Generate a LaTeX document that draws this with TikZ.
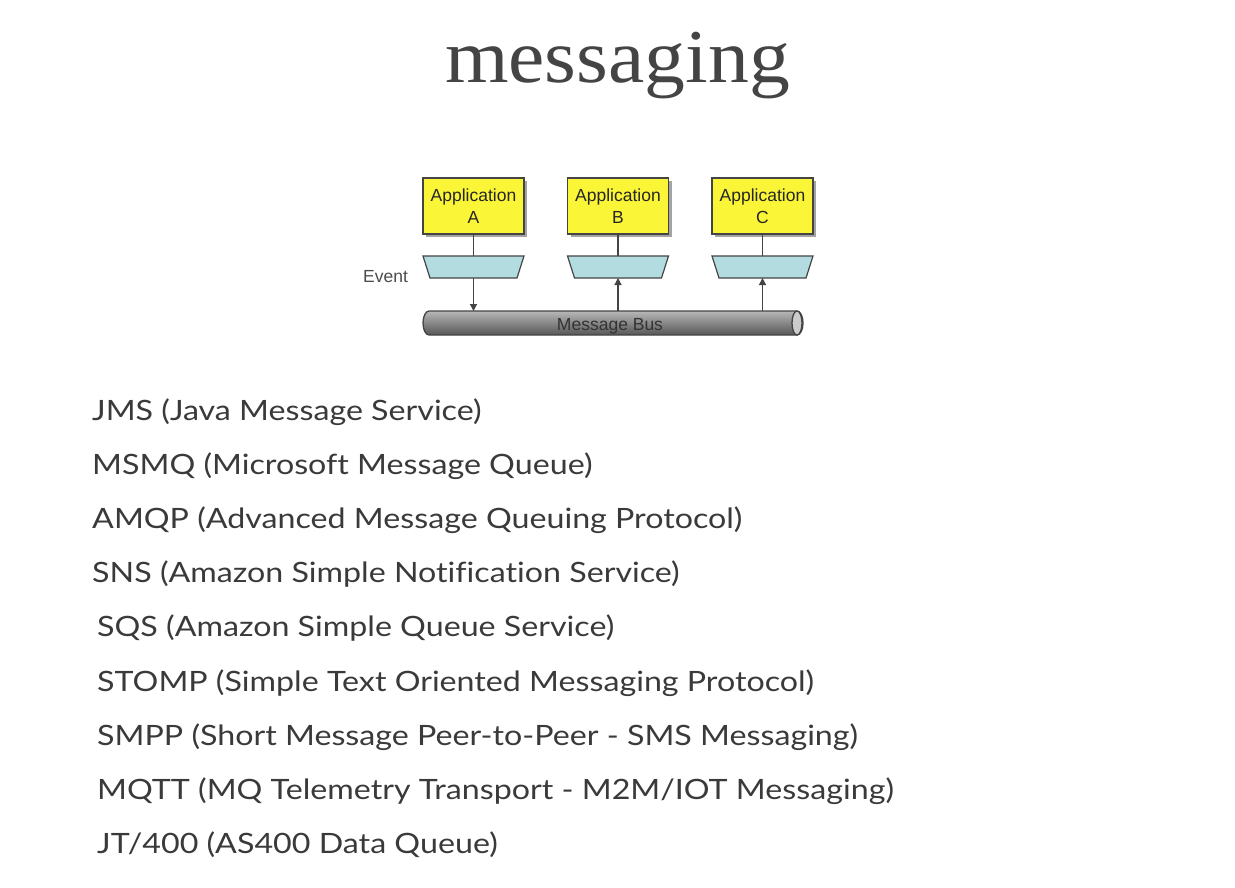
\documentclass[tikz,border=0pt]{standalone}
\usepackage{fontspec}
\setmainfont{Liberation Serif}
\newfontfamily\titlefont[FakeStretch=1.075]{Liberation Serif}
\newfontfamily\listfont[FakeStretch=1.15, Ligatures={NoCommon}]{Lato}
\newfontfamily\diafont{Liberation Sans}
\usetikzlibrary{arrows.meta,shadows}
\definecolor{appyellow}{RGB}{250,245,55}
\definecolor{evtblue}{RGB}{178,220,224}
\definecolor{linegray}{RGB}{68,68,68}
\definecolor{txtgray}{RGB}{58,58,58}
\definecolor{titlegray}{RGB}{68,68,68}
\begin{document}
\begin{tikzpicture}[x=1pt,y=-1pt,
  appbox/.style={draw=linegray, line width=1.4pt, fill=appyellow,
    minimum width=101pt, minimum height=56pt, inner sep=0pt, align=center,
    font=\diafont\fontsize{17.5}{22}\selectfont, text=black!85,
    drop shadow={shadow xshift=3pt, shadow yshift=-3pt, fill=black!45, opacity=0.8}},
  evtbox/.style={draw=none, minimum width=101pt, minimum height=22pt, inner sep=0pt, outer sep=0pt},
  evtshape/.style={draw=linegray, line width=1.2pt, fill=evtblue, line join=miter},
  conn/.style={draw=linegray, line width=1.3pt},
  tip/.style={-{Triangle[length=7pt,width=7pt]}},
  item/.style={anchor=base west, inner sep=0pt, text=txtgray,
    font=\listfont\fontsize{28}{32}\selectfont},
  dialabel/.style={inner sep=0pt, font=\diafont\fontsize{17.5}{20}\selectfont}
]
\useasboundingbox[fill=white] (0,0) rectangle (1235,888);

% title
\node[anchor=base, inner sep=0pt, text=titlegray,
  font=\titlefont\fontsize{76}{80}\selectfont] (title) at (617.5,83) {messaging};

% bus
\shade[shading=axis, top color=black!28, middle color=black!45, bottom color=black!66,
  draw=linegray, line width=1.3pt]
  (429,311) -- (797,311) arc[start angle=-90, end angle=90, x radius=6, y radius=12]
  -- (429,335) arc[start angle=90, end angle=270, x radius=6, y radius=12] -- cycle;
\draw[draw=linegray, line width=1.3pt, fill=black!20] (797,323) ellipse[x radius=5, y radius=12];
\node[dialabel, anchor=base, text=black!80] (bus) at (610,330) {Message Bus};
\coordinate (busA) at (473.5,311);
\coordinate (busB) at (618,311);
\coordinate (busC) at (762.5,311);

% applications
\node[appbox] (A) at (473.5,206) {Application\\A};
\node[appbox] (B) at (618,206) {Application\\B};
\node[appbox] (C) at (762.5,206) {Application\\C};

% event channels
\foreach \n/\x in {tA/473.5, tB/618, tC/762.5}{
  \node[evtbox] (\n) at (\x,267) {};
  \draw[evtshape] (\n.north west) -- (\n.north east) -- ([xshift=-7pt]\n.south east)
    -- ([xshift=7pt]\n.south west) -- cycle;
}

\node[dialabel, anchor=base west, text=black!70] (event) at (363,282) {Event};

\draw[conn] (A.south) -- (tA.north);
\draw[conn] (B.south) -- (tB.north);
\draw[conn] (C.south) -- (tC.north);
\draw[conn, tip] (tA.south) -- (busA);
\draw[conn, tip] (busB) -- (tB.south);
\draw[conn, tip] (busC) -- (tC.south);

% list
\node[item] (l1) at (92,420) {JMS (Java Message Service)};
\node[item] (l2) at (92,474.2) {MSMQ (Microsoft Message Queue)};
\node[item] (l3) at (92,528.4) {AMQP (Advanced Message Queuing Protocol)};
\node[item] (l4) at (92,582.6) {SNS (Amazon Simple Notification Service)};
\node[item] (l5) at (97,636.8) {SQS (Amazon Simple Queue Service)};
\node[item] (l6) at (97,691) {STOMP (Simple Text Oriented Messaging Protocol)};
\node[item] (l7) at (97,745.2) {SMPP (Short Message Peer-to-Peer - SMS Messaging)};
\node[item] (l8) at (97,799.4) {MQTT (MQ Telemetry Transport - M2M/IOT Messaging)};
\node[item] (l9) at (97,853.6) {JT/400 (AS400 Data Queue)};
\end{tikzpicture}
\end{document}
